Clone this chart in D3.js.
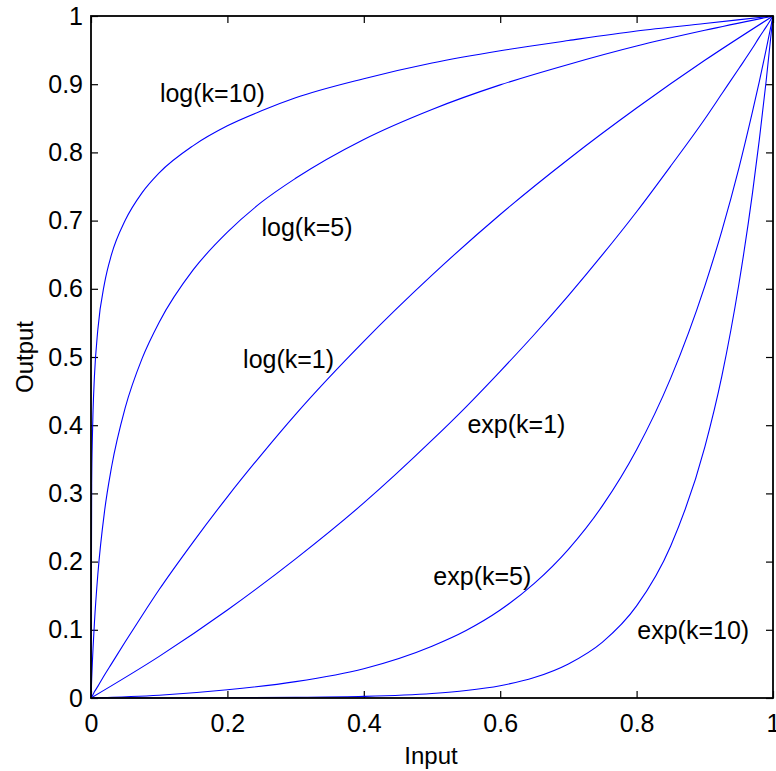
<!DOCTYPE html>
<html>
<head>
<meta charset="utf-8">
<script src="https://cdn.jsdelivr.net/npm/d3@7.9.0/dist/d3.min.js"></script>
<style>
  body { margin: 0; background: #fff; }
  svg text { font-family: "Liberation Sans", Arial, sans-serif; fill: #000; }
</style>
</head>
<body>
<svg id="chart" width="776" height="771"></svg>
<script>
const logInput = [0, 0.001, 0.002, 0.003, 0.005, 0.01, 0.02, 0.03, 0.05, 0.075, 0.1, 0.15, 0.2, 0.25, 0.3, 0.4, 0.5, 0.6, 0.7, 0.8, 0.9, 1];
const logK10 = [0, 0.314, 0.381, 0.421, 0.471, 0.540, 0.609, 0.650, 0.700, 0.741, 0.770, 0.810, 0.839, 0.861, 0.880, 0.908, 0.931, 0.949, 0.964, 0.978, 0.989, 1];
const logK5 = [0, 0.028, 0.052, 0.073, 0.110, 0.181, 0.275, 0.338, 0.425, 0.498, 0.551, 0.628, 0.683, 0.727, 0.762, 0.819, 0.863, 0.899, 0.929, 0.956, 0.979, 1];
const logK1 = [0, 0.002, 0.003, 0.005, 0.009, 0.017, 0.034, 0.050, 0.082, 0.121, 0.159, 0.229, 0.295, 0.357, 0.416, 0.523, 0.620, 0.709, 0.790, 0.865, 0.935, 1];

const expInput = [0, 0.1, 0.2, 0.3, 0.4, 0.5, 0.55, 0.6, 0.65, 0.7, 0.75, 0.8, 0.85, 0.9, 0.925, 0.95, 0.97, 0.98, 0.99, 1];
const expK1 = [0, 0.061, 0.129, 0.204, 0.286, 0.378, 0.427, 0.479, 0.533, 0.590, 0.650, 0.713, 0.780, 0.849, 0.886, 0.923, 0.953, 0.969, 0.984, 1];
const expK5 = [0, 0.004, 0.012, 0.024, 0.043, 0.076, 0.099, 0.129, 0.168, 0.218, 0.282, 0.364, 0.469, 0.604, 0.685, 0.777, 0.860, 0.904, 0.951, 1];
const expK10 = [0, 0.0001, 0.0003, 0.0009, 0.0024, 0.0067, 0.011, 0.018, 0.030, 0.050, 0.082, 0.135, 0.223, 0.368, 0.472, 0.607, 0.741, 0.819, 0.905, 1];

const xTicks = [0, 0.2, 0.4, 0.6, 0.8, 1];
const xTickLabels = ["0", "0.2", "0.4", "0.6", "0.8", "1"];
const yTicks = [0, 0.1, 0.2, 0.3, 0.4, 0.5, 0.6, 0.7, 0.8, 0.9, 1];
const yTickLabels = ["0", "0.1", "0.2", "0.3", "0.4", "0.5", "0.6", "0.7", "0.8", "0.9", "1"];

// curve labels: text plus the (input, output) spot it sits at
const labelNames = ["log(k=10)", "log(k=5)", "log(k=1)", "exp(k=1)", "exp(k=5)", "exp(k=10)"];
const labelInput = [0.101, 0.250, 0.223, 0.552, 0.502, 0.801];
const labelOutput = [0.874, 0.677, 0.484, 0.388, 0.165, 0.087];

const svg = d3.select('#chart');
const plotLeft = 91, plotRight = 773, plotTop = 16, plotBottom = 698;

const x = d3.scaleLinear().domain([0, 1]).range([plotLeft, plotRight]);
const y = d3.scaleLinear().domain([0, 1]).range([plotBottom, plotTop]);

// ticks on all four sides, pointing inwards
const fontSize = 25;
const gx = svg.append('g')
    .attr('transform', `translate(0,${plotBottom})`)
    .call(d3.axisBottom(x).tickValues(xTicks)
        .tickFormat((d, i) => xTickLabels[i])
        .tickSizeInner(-7).tickSizeOuter(0).tickPadding(16));
const gy = svg.append('g')
    .attr('transform', `translate(${plotLeft},0)`)
    .call(d3.axisLeft(y).tickValues(yTicks)
        .tickFormat((d, i) => yTickLabels[i])
        .tickSizeInner(-7).tickSizeOuter(0).tickPadding(8));
const gt = svg.append('g')
    .attr('transform', `translate(0,${plotTop})`)
    .call(d3.axisTop(x).tickValues(xTicks).tickFormat('')
        .tickSizeInner(-7).tickSizeOuter(0));
const gr = svg.append('g')
    .attr('transform', `translate(${plotRight},0)`)
    .call(d3.axisRight(y).tickValues(yTicks).tickFormat('')
        .tickSizeInner(-7).tickSizeOuter(0));

[gx, gy, gt, gr].forEach(g => {
    g.select('.domain').remove();
    g.selectAll('line').attr('stroke', '#000').attr('stroke-width', 1.2);
    g.selectAll('text').attr('font-size', fontSize).attr('font-family', '"Liberation Sans", Arial, sans-serif').attr('fill', '#000');
});

// curves
const line = d3.line()
    .x(d => x(d[0]))
    .y(d => y(d[1]))
    .curve(d3.curveMonotoneX);

const series = [
    [logInput, logK10],
    [logInput, logK5],
    [logInput, logK1],
    [expInput, expK1],
    [expInput, expK5],
    [expInput, expK10]
];

series.forEach(([xs, ys]) => {
    svg.append('path')
        .datum(xs.map((v, i) => [v, ys[i]]))
        .attr('d', line)
        .attr('fill', 'none')
        .attr('stroke', '#0000ff')
        .attr('stroke-width', 1.1);
});

// box
svg.append('rect')
    .attr('x', plotLeft).attr('y', plotTop)
    .attr('width', plotRight - plotLeft).attr('height', plotBottom - plotTop)
    .attr('fill', 'none')
    .attr('stroke', '#000')
    .attr('stroke-width', 1.8);

// curve labels
labelNames.forEach((t, i) => {
    svg.append('text')
        .attr('x', x(labelInput[i]))
        .attr('y', y(labelOutput[i]))
        .attr('font-size', fontSize)
        .text(t);
});

// axis titles
svg.append('text')
    .attr('x', 431).attr('y', 764)
    .attr('text-anchor', 'middle')
    .attr('font-size', 24)
    .text('Input');

svg.append('text')
    .attr('transform', 'translate(33,357) rotate(-90)')
    .attr('text-anchor', 'middle')
    .attr('font-size', 24)
    .text('Output');
</script>
</body>
</html>
